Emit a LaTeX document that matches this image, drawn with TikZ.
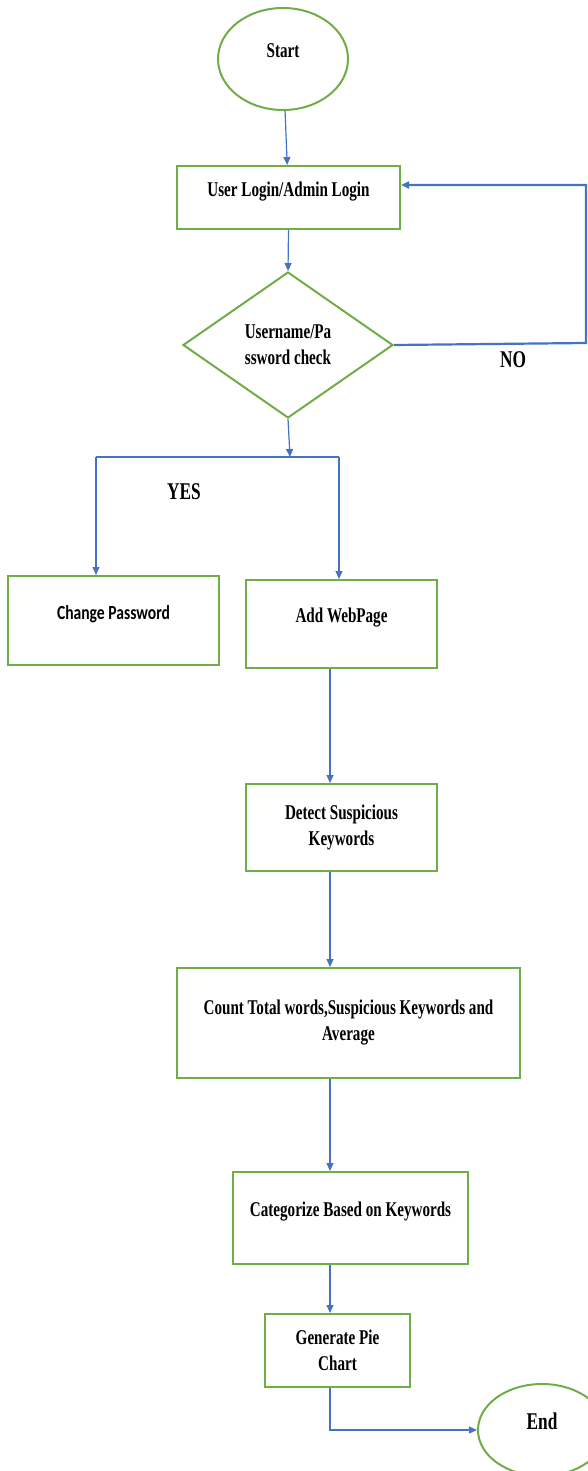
\documentclass[tikz,border=0pt]{standalone}
\usepackage{fontspec}
\setmainfont{Liberation Serif}[FakeStretch=0.72]
\newfontfamily\calfont{Carlito}[FakeStretch=0.78]
\usetikzlibrary{shapes.geometric,arrows.meta}
\definecolor{boxgreen}{RGB}{112,173,71}
\definecolor{flowblue}{RGB}{68,114,196}

\tikzstyle{box}=[shape=rectangle,draw=boxgreen,line width=2pt,align=center,inner sep=0pt,font=\bfseries\fontsize{21}{26}\selectfont]
\tikzstyle{uptext}=[text depth=17pt]
\tikzstyle{terminal}=[box,shape=ellipse]
\tikzstyle{decision}=[box,shape=diamond]
\tikzstyle{flowedge}=[-{Triangle[length=8pt,width=7pt]},draw=flowblue,line width=1.2pt]
\tikzstyle{mainedge}=[flowedge,line width=2.2pt]
\tikzstyle{answer}=[font=\bfseries\fontsize{24}{26}\selectfont]

\begin{document}
\begin{tikzpicture}[x=1pt,y=-1pt]
\useasboundingbox (0,0) rectangle (588,1471);
% login part
\node[terminal,uptext,minimum width=130pt,minimum height=102pt] (start) at (283,59) {Start};
\node[box,uptext,minimum width=223pt,minimum height=63pt] (login) at (288.5,197.5) {User Login/Admin Login};
\node[decision,minimum width=210pt,minimum height=146pt] (check) at (288,345) {Username/Pa\\ssword check};
\node[answer] (no) at (513,360) {NO};
% branches
\coordinate (split) at (290,457);
\coordinate (yesl) at (96,457);
\coordinate (yesr) at (339,457);
\coordinate (noturn) at (586,343);
\node[answer] (yes) at (184,492) {YES};
\node[box,uptext,minimum width=211pt,minimum height=89pt,font=\calfont\bfseries\fontsize{20}{22}\selectfont] (chpass) at (113.5,620.5) {Change Password};
\node[box,uptext,minimum width=191pt,minimum height=88pt] (addweb) at (341.5,624) {Add WebPage};
% main column
\coordinate (spine) at (330,0);
\node[box,minimum width=191pt,minimum height=87pt] (detect) at (341.5,827.5) {Detect Suspicious\\Keywords};
\node[box,minimum width=343pt,minimum height=110pt] (count) at (348.5,1023) {Count Total words,Suspicious Keywords and\\Average};
\node[box,uptext,minimum width=235pt,minimum height=92pt] (categ) at (350.5,1218) {Categorize Based on Keywords};
\node[box,minimum width=145pt,minimum height=73pt] (pie) at (337.5,1350.5) {Generate Pie\\Chart};
\node[terminal,uptext,minimum width=128pt,minimum height=92pt,font=\bfseries\fontsize{24}{26}\selectfont] (end) at (542,1430) {End};

% connectors
\draw[flowedge] (start) -- (login);
\draw[flowedge] (login.south) -- (check.north);
\draw[mainedge] (check.east) -- (noturn) |- ([yshift=12.5pt]login.east);
\draw[flowedge] (check.south) -- (split);
\draw[mainedge,-] (yesl) -- (yesr);
\draw[flowedge] (yesl) -- (yesl |- chpass.north);
\draw[flowedge] (yesr) -- (yesr |- addweb.north);
\draw[flowedge] (addweb.south -| spine) -- (detect.north -| spine);
\draw[flowedge] (detect.south -| spine) -- (count.north -| spine);
\draw[flowedge] (count.south -| spine) -- (categ.north -| spine);
\draw[flowedge] (categ.south -| spine) -- (pie.north -| spine);
\draw[flowedge] (pie.south -| spine) |- (end.west);

\end{tikzpicture}
\end{document}
